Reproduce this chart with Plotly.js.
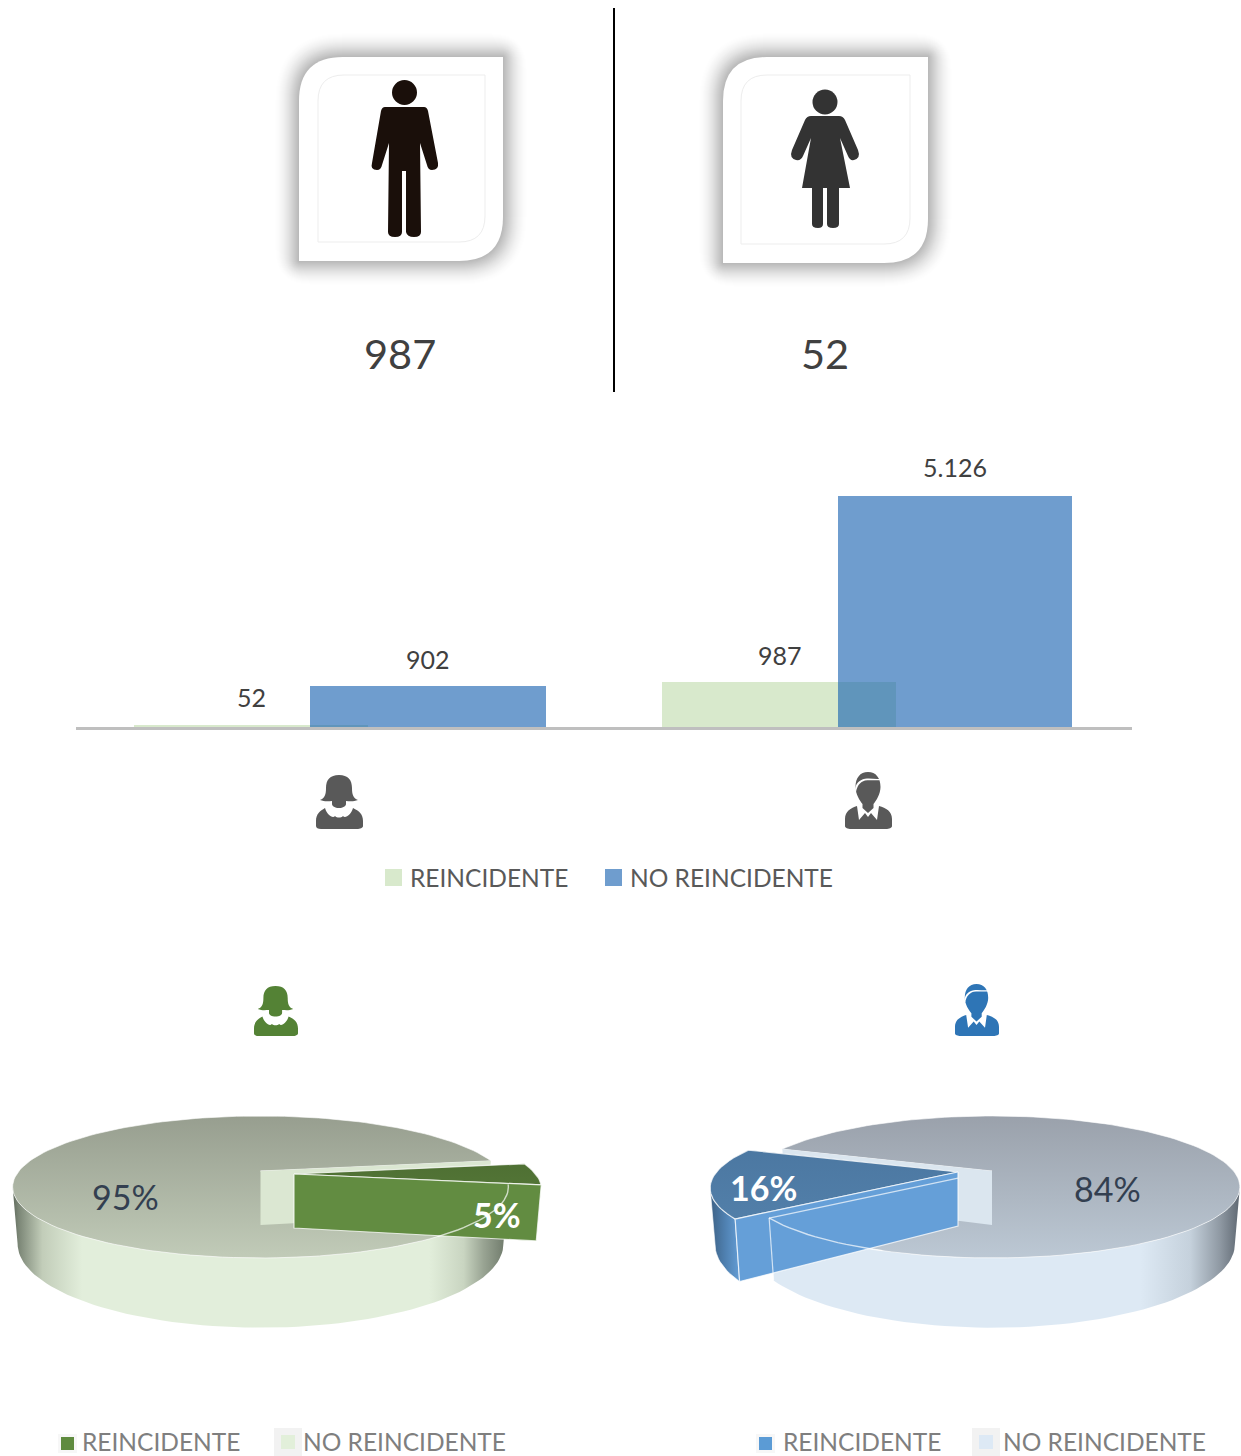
<!DOCTYPE html>
<html><head><meta charset="utf-8">
<script src="https://cdn.plot.ly/plotly-3.0.1.min.js"></script>
<style>html,body{margin:0;padding:0;background:#fff}#c{width:1241px;height:1456px}</style>
</head><body><div id="c"></div>
<script>
// ---------- data ----------
const genderCounts = [987, 52];
const categories = ['MUJER', 'HOMBRE'];
const seriesNames = ['REINCIDENTE', 'NO REINCIDENTE'];
const reincidente = [52, 987];
const noReincidente = [902, 5126];
const barLabelsA = ['52', '987'];
const barLabelsB = ['902', '5.126'];
const piePctMujer = [5, 95];
const piePctHombre = [16, 84];

// ---------- styling ----------
const FONT = 'Lato, "Open Sans", sans-serif';
const W = 1241, H = 1456;
const shapes = [], annotations = [], traces = [];

function txt(x, y, text, size, color, extra) {
  annotations.push(Object.assign({x, y, xref:'x', yref:'y', text, showarrow:false,
    xanchor:'center', yanchor:'middle', font:{family:FONT, size, color}}, extra||{}));
}
function tr(path, x0, y0, sx, sy) {
  return path.replace(/(-?[\d.]+),(-?[\d.]+)/g, (m,a,b)=>(x0+a*sx).toFixed(1)+','+(y0+b*sy).toFixed(1));
}
function shapePath(path, fill, layer, opacity) {
  shapes.push({type:'path', xref:'x', yref:'y', path, fillcolor:fill, line:{width:0}, layer:layer||'above', opacity:opacity==null?1:opacity});
}
function leafPath(x0, y0, x1, y1, r, s) {
  s = s||0;
  return `M${x0},${y0+r} Q${x0},${y0} ${x0+r},${y0} L${x1-s},${y0} Q${x1},${y0} ${x1},${y0+s} L${x1},${y1-r} Q${x1},${y1} ${x1-r},${y1} L${x0+s},${y1} Q${x0},${y1} ${x0},${y1-s} Z`;
}
function card(x0, y0, x1, y1, ix0, iy0, ix1, iy1) {
  for (let e = 25; e >= 1; e -= 1) shapePath(leafPath(x0-e, y0-e, x1+e, y1+e, 44+e, e*1.5), '#000000', 'below', 0.018*(1-Math.pow(e/26,1.6)));
  shapePath(leafPath(x0, y0, x1, y1, 44), '#ffffff', 'below');
  shapes.push({type:'path', xref:'x', yref:'y', path:leafPath(ix0, iy0, ix1, iy1, 26), fillcolor:'#ffffff',
    line:{color:'#ededed', width:1}, layer:'below'});
}
card(299, 57, 503, 261, 318, 75, 485, 242);
card(723, 57, 928, 263, 741, 75, 910, 244);

const MAN = 'M385,107 L424,107 Q427,107 428,111 L438,163 Q439,170 432,170 Q428,170 427,165 L420,143 L421,232 Q421,237 414,237 Q407,237 406,232 L406,171 L402,171 L402,232 Q402,237 395,237 Q388,237 388,232 L389,143 L382,165 Q381,170 377,170 Q370,170 372,163 L381,111 Q382,107 385,107 Z';
const WOMAN = 'M811,116 L839,116 Q843,116 845,120 L858,150 Q861,158 854,160 Q850,161 848,156 L840,138 L850,188 L839,188 L839,224 Q839,228 833,228 Q827,228 827,224 L827,188 L823,188 L823,224 Q823,228 818,228 Q812,228 812,224 L812,188 L802,188 L811,138 L803,156 Q801,161 796,160 Q789,158 792,150 L805,120 Q807,116 811,116 Z';
function circle(cx, cy, r, col){ shapes.push({type:'circle', xref:'x', yref:'y', x0:cx-r, x1:cx+r, y0:cy-r, y1:cy+r, fillcolor:col, line:{width:0}, layer:'above'}); }
circle(404.5, 92.5, 12.5, '#1a0f0a');
shapePath(MAN, '#1a0f0a');
circle(825, 102, 12.5, '#333333');
shapePath(WOMAN, '#333333');

const BUST_W_HEAD = 'M23,0 C32,0 36,5 36,13 C36,19 37,23 42,25 C37,27 33,26 30,26 L30,29 C30,31 27,33 23,33 C19,33 16,31 16,29 L16,26 C13,26 9,27 4,25 C9,23 10,19 10,13 C10,5 14,0 23,0 Z';
const BUST_W_BODY = 'M9,33 C11,40 17,44 19,41 C21,43 25,43 27,41 C29,44 35,40 37,33 C43,36 47,39 47,46 L47,51 C47,53 44,54 41,54 L5,54 C2,54 0,53 0,51 L0,46 C0,39 4,36 9,33 Z';
const BUST_M_HEAD = 'M23,0 C31,0 35.5,6 35.5,15 C35.5,22 31,29 28.5,32 L28.5,36 L23,41 L17.5,36 L17.5,32 C15,29 10.5,22 10.5,15 C10.5,6 15,0 23,0 Z';
const BUST_M_HAIR = 'M11,20 C12,14 15,10 20,8.5 C26,7.5 31,9 36,8 L35,6.8 C30,7.5 26,6 20,6.8 C14,8 10.5,12 10,18 Z';
const BUST_M_BODY = 'M12,34 L14,48 L20,41 L23,45 L26,41 L32,48 L34,34 C41,36 47,39 47,47 L47,54 C47,56 44,57 41,57 L6,57 C3,57 0,56 0,54 L0,47 C0,39 6,36 12,34 Z';
function bustW(x, y, sx, sy, col){ shapePath(tr(BUST_W_HEAD,x,y,sx,sy),col); shapePath(tr(BUST_W_BODY,x,y,sx,sy),col); }
function bustM(x, y, sx, sy, col){ shapePath(tr(BUST_M_HEAD,x,y,sx,sy),col); shapePath(tr(BUST_M_HAIR,x,y,sx,sy),'#ffffff'); shapePath(tr(BUST_M_BODY,x,y,sx,sy),col); }
bustW(316, 775, 1, 1, '#595959');
bustM(845, 772, 1, 1, '#595959');
bustW(254, 986, 44/47, 50/54, '#548235');
bustM(955, 984, 44/47, 52/57, '#2e75b6');

// divider + counts
shapes.push({type:'line', xref:'x', yref:'y', x0:614, x1:614, y0:8, y1:392, line:{color:'#000000', width:2}});
txt(400, 353, String(genderCounts[0]), 41.5, '#404040');
txt(825, 353, String(genderCounts[1]), 41.5, '#404040');

// ---------- pies in perspective, computed from the percentages ----------
const P = {p:0.225, rx:241.5, ry:67.4, h:54};
function pt(c, deg, z) {
  const t = deg*Math.PI/180, u = Math.cos(t), v = Math.sin(t), w = 1+P.p*v;
  return [c.x + P.rx*u/w*(1-0.02*z), c.y - P.ry*v/w + z*P.h/w];
}
function arc(c, a0, a1, z) {
  const n = Math.max(2, Math.ceil(Math.abs(a1-a0)/2)), out = [];
  for (let i=0;i<=n;i++) out.push(pt(c, a0+(a1-a0)*i/n, z));
  return out;
}
function poly(points, style, name) {
  const closed = points.concat([points[0]]);
  traces.push(Object.assign({type:'scatter', mode:'lines', xaxis:'x', yaxis:'y', name:name||'', hoverinfo:'skip', showlegend:false,
    x:closed.map(q=>q[0]), y:closed.map(q=>q[1]), fill:'toself'}, style));
}
function stroke(points, color, width) {
  traces.push({type:'scatter', mode:'lines', xaxis:'x', yaxis:'y', hoverinfo:'skip', showlegend:false,
    x:points.map(q=>q[0]), y:points.map(q=>q[1]), line:{color, width}});
}
function grad(type, start, stop, stops){ return {type, start, stop, colorscale:stops}; }

function pie3d(o) {
  const c = o.c, s = o.s;
  const half = o.pct[0]*3.6/2, a0 = o.mid-half, a1 = o.mid+half;
  const xmin = c.x-P.rx*1.026, xmax = c.x+P.rx*1.026;
  const noLine = {color:'rgba(255,255,255,0.6)', width:1};
  // main piece outer wall
  const wStart = Math.max(193, o.mainStart), wEnd = 347;
  poly(arc(c,wStart,wEnd,0).concat(arc(c,wEnd,wStart,1)),
    {line:{width:0,color:'rgba(0,0,0,0)'}, fillgradient:grad('horizontal',xmin,xmax,o.wall)}, seriesNames[1]);
  // main piece top
  const topPts = [[c.x,c.y]].concat(arc(c,o.mainStart,o.mainStart+o.pct[1]*3.6,0));
  poly(topPts, {line:noLine, fillgradient:grad('vertical',1116,1258,o.top)}, seriesNames[1]);
  // inner cut wall
  const q = o.cutAngle, rim = pt(c,q,0), rimB = pt(c,q,1);
  poly([[c.x,c.y], rim, rimB, [c.x,c.y+P.h]], {line:{width:0,color:'rgba(0,0,0,0)'}, fillcolor:o.inner}, seriesNames[1]);
  // exploded slice
  if (o.sliceWall) {
    poly(arc(s,Math.max(193,a0),a1,0).concat(arc(s,a1,Math.max(193,a0),1)),
      {line:noLine, fillgradient:grad('horizontal',s.x-P.rx*1.03,s.x-P.rx*0.9,o.sliceWall)}, seriesNames[0]);
  }
  const e = o.faceAngle, fr = pt(s,e,0), frB = pt(s,e,1);
  poly(arc(s,a0,a1,0).concat([[s.x,s.y]]), {line:{color:'rgba(255,255,255,0.75)',width:1.2}, fillgradient:grad('vertical',s.y-40,s.y+50,o.sliceTop)}, seriesNames[0]);
  poly([[s.x,s.y], fr, frB, [s.x,s.y+P.h]], {line:{color:'rgba(255,255,255,0.75)',width:1.2}, fillcolor:o.face}, seriesNames[0]);
  // main piece seen through the slice
  stroke(arc(c,o.arc[0],o.arc[1],0), 'rgba(255,255,255,0.7)', 1.4);
  if (o.seeThrough) {
    const r0 = pt(c,o.mainStart,0), r1 = pt(c,o.mainStart,1);
    const t = (s.x-r0[0])/(c.x-r0[0]);
    stroke([r0, [s.x, r0[1]+t*(c.y-r0[1])]], 'rgba(255,255,255,0.7)', 1.2);
    stroke([r0, r1], 'rgba(255,255,255,0.7)', 1.2);
  }
}

const topG = [[0,'#979e8f'],[1,'#c1cbb8']];
const topB = [[0,'#9aa1ab'],[1,'#bcc8d4']];
pie3d({
  c:{x:260.5,y:1171}, s:{x:294,y:1174}, pct:piePctMujer, mid:0, mainStart:piePctMujer[0]*1.8,
  cutAngle:piePctMujer[0]*1.8, faceAngle:-piePctMujer[0]*1.8, arc:[307,349],
  top:topG, inner:'#dbe7d2', face:'#628c41',
  sliceTop:[[0,'#4a6a30'],[1,'#587c3a']],
  wall:[[0,'#5f6a5c'],[0.012,'#7b8676'],[0.06,'#c2cdb9'],[0.14,'#e2eedb'],[0.84,'#e2eedb'],[0.91,'#c9d5c1'],[0.95,'#99a493'],[1,'#6a7566']]
});
pie3d({
  c:{x:992,y:1171}, s:{x:958,y:1172}, pct:piePctHombre, mid:188.3, mainStart:188.3+piePctHombre[0]*1.8,
  cutAngle:188.3-piePctHombre[0]*1.8, faceAngle:188.3+piePctHombre[0]*1.8, arc:[217,249], seeThrough:true,
  top:topB, inner:'#dbe6ef', face:'#659fd8',
  sliceTop:[[0,'#4a76a0'],[1,'#527fa9']],
  sliceWall:[[0,'#3c5f82'],[0.5,'#4f80b0'],[1,'#659fd8']],
  wall:[[0,'#dde9f4'],[0.8,'#dde9f4'],[0.9,'#c5d1dc'],[0.96,'#8f99a3'],[1,'#5f6872']]
});
txt(125, 1196, piePctMujer[1]+'%', 34, '#333f50');
txt(497, 1214, piePctMujer[0]+'%', 34, '#ffffff', {font:{family:FONT,size:34,color:'#ffffff',weight:700}});
txt(1107, 1188, piePctHombre[1]+'%', 34, '#333f50');
txt(763, 1187, piePctHombre[0]+'%', 34, '#ffffff', {font:{family:FONT,size:34,color:'#ffffff',weight:700}});

// ---------- bars ----------
const GREEN = '#d8e9cc', BLUE = '#6f9dce', BLUE_ALPHA = 'rgba(23,97,176,0.62)';
traces.push({type:'bar', xaxis:'x2', yaxis:'y2', name:seriesNames[0], x:categories, y:reincidente,
  offset:-0.39, width:0.443, marker:{color:GREEN, line:{width:0}}, showlegend:false, hoverinfo:'y'});
traces.push({type:'bar', xaxis:'x2', yaxis:'y2', name:seriesNames[1], x:categories, y:noReincidente,
  offset:-0.057, width:[0.447,0.443], marker:{color:BLUE_ALPHA, line:{width:0}}, showlegend:false, hoverinfo:'y'});
function barLabel(i, off, val, label, shift) {
  annotations.push({x:i+off, y:val, xref:'x2', yref:'y2', text:label, showarrow:false, xanchor:'center', yanchor:'middle',
    yshift:shift, font:{family:FONT, size:25, color:'#404040'}});
}
barLabel(0,-0.168,reincidente[0],barLabelsA[0],28);
barLabel(1,-0.167,reincidente[1],barLabelsA[1],27);
barLabel(0,0.167,noReincidente[0],barLabelsB[0],27);
barLabel(1,0.165,noReincidente[1],barLabelsB[1],29);

// ---------- legends ----------
function legendItem(sx, sy, size, color, tx, ty, label, tcolor, fs, glow) {
  if (glow) shapes.push({type:'rect', xref:'x', yref:'y', x0:sx-glow.pad, x1:sx+size+glow.pad, y0:sy-glow.pad, y1:sy+size+glow.pad, fillcolor:glow.color, line:{width:0}, layer:'below'});
  shapes.push({type:'rect', xref:'x', yref:'y', x0:sx, x1:sx+size, y0:sy, y1:sy+size, fillcolor:color, line:{width:0}, layer:'below'});
  txt(tx, ty, label, fs, tcolor, {xanchor:'left'});
}
legendItem(385, 869, 17, GREEN, 408, 877, seriesNames[0], '#595959', 24.5);
legendItem(605, 869, 17, BLUE, 628, 877, seriesNames[1], '#595959', 24.5);
legendItem(61, 1437, 13, '#5f8b3f', 80, 1441.5, seriesNames[0], '#7f7f7f', 24.5, {pad:3,color:'#f7f7f7'});
legendItem(281, 1435, 14, '#e2efda', 301, 1441.5, seriesNames[1], '#7f7f7f', 24.5, {pad:7,color:'#f2f2f2'});
legendItem(759, 1437, 13, '#5b9bd5', 781, 1441.5, seriesNames[0], '#7f7f7f', 24.5, {pad:3,color:'#f7f7f7'});
legendItem(979, 1435, 14, '#dde9f5', 1001, 1441.5, seriesNames[1], '#7f7f7f', 24.5, {pad:7,color:'#f2f2f2'});

const PX = 0.0451, YMAX = 6000, BASE = 727;
const layout = {
  width:W, height:H, margin:{l:0,r:0,t:0,b:0}, paper_bgcolor:'#ffffff', plot_bgcolor:'rgba(0,0,0,0)',
  showlegend:false, barmode:'overlay', bargap:0, dragmode:false,
  xaxis:{domain:[0,1], range:[0,W], visible:false, fixedrange:true},
  yaxis:{domain:[0,1], range:[H,0], visible:false, fixedrange:true},
  xaxis2:{domain:[76/W,1132/W], range:[-0.5,1.5], type:'category', categoryorder:'array', categoryarray:categories,
    anchor:'y2', showticklabels:false, ticks:'', showgrid:false, zeroline:false, showline:true, linecolor:'#bfbfbf', linewidth:3, fixedrange:true},
  yaxis2:{domain:[1-BASE/H,1-(BASE-PX*YMAX)/H], range:[0,YMAX], anchor:'x2', visible:false, showgrid:false, zeroline:false, fixedrange:true},
  shapes, annotations
};
Plotly.newPlot('c', traces, layout, {displayModeBar:false, staticPlot:true});
</script></body></html>
